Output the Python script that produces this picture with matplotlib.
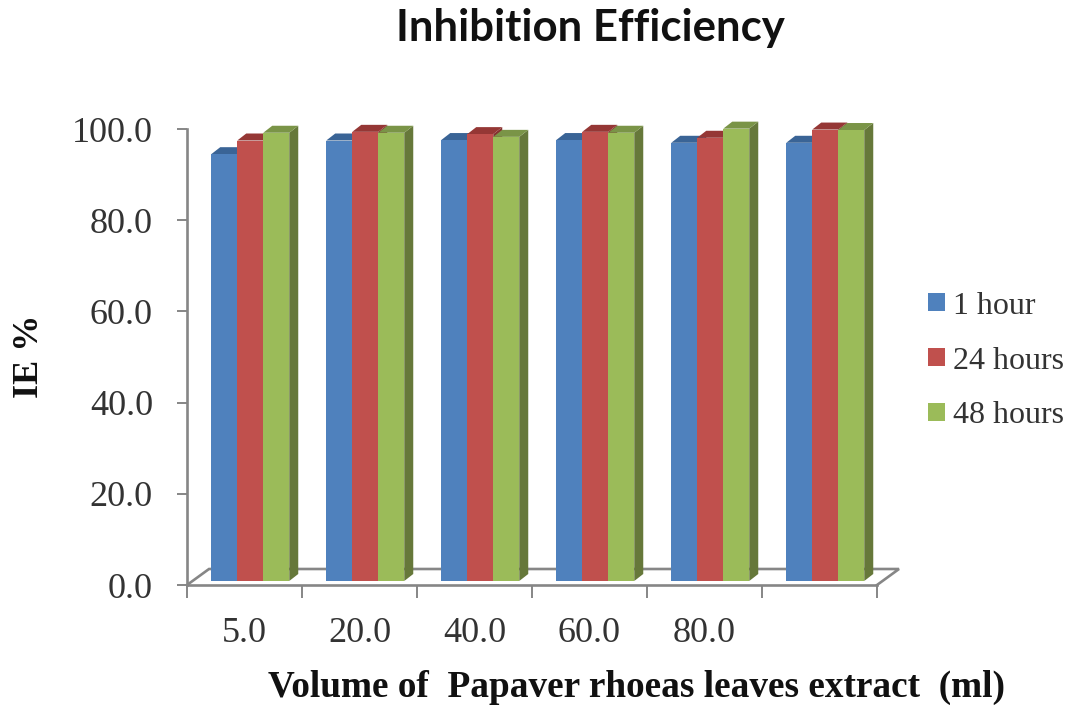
import numpy as np
import matplotlib.pyplot as plt
from matplotlib.patches import Patch

volumes = ['5.0', '20.0', '40.0', '60.0', '80.0', '']
hour_1 = [93.6, 96.6, 96.7, 96.7, 96.1, 96.1]
hours_24 = [96.6, 98.5, 98.0, 98.5, 97.2, 99.0]
hours_48 = [98.3, 98.3, 97.4, 98.3, 99.2, 98.9]
series_names = ['1 hour', '24 hours', '48 hours']
y_ticks = [0, 20, 40, 60, 80, 100]

front = ['#4F81BD', '#C0504D', '#9BBB59']
top = ['#3A6496', '#953735', '#7A9447']
side = ['#345A88', '#843230', '#66783A']
gray = '#868686'

W, H = 1067, 708
# bar sizes and 3d depth, in data units (1 category = 115 px, 1 y unit = 4.56 px)
bar_w = 26 / 115
depth_x = 9 / 115
depth_y = 7 / 4.56
lift = 4 / 4.56
shift = 0.05

fig = plt.figure(figsize=(W / 100, H / 100), dpi=100)
ax = fig.add_axes([187 / W, 1 - 585 / H, 690 / W, 456 / H])
ax.set_xlim(0, 6)
ax.set_ylim(0, 100)

# floor of the 3d box
ax.plot([0, 22 / 115, 6 + 22 / 115, 6], [0, 16 / 4.56, 16 / 4.56, 0],
        color=gray, lw=1.9, clip_on=False, zorder=1, solid_joinstyle='miter')

x = np.arange(len(volumes)) + 0.5 + shift
for j, values in enumerate([hour_1, hours_24, hours_48]):
    left = x + (j - 1.5) * bar_w
    z = 3 + j
    ax.bar(left, values, width=bar_w, bottom=lift, align='edge', color=front[j],
           zorder=z, clip_on=False)
    for xl, v in zip(left, values):
        xr = xl + bar_w
        yt = v + lift
        ax.fill([xr, xr + depth_x, xr + depth_x, xr],
                [lift, lift + depth_y, yt + depth_y, yt],
                color=side[j], lw=0, zorder=z - 0.5, clip_on=False)
        ax.fill([xl, xl + depth_x, xr + depth_x, xr],
                [yt, yt + depth_y, yt + depth_y, yt],
                color=top[j], lw=0, zorder=z - 0.5, clip_on=False)

for name in ['top', 'right']:
    ax.spines[name].set_visible(False)
for name in ['left', 'bottom']:
    ax.spines[name].set_color(gray)
    ax.spines[name].set_linewidth(1.9)
    ax.spines[name].set_zorder(2)

serif = 'Liberation Serif'
ax.set_yticks(y_ticks)
ax.set_yticklabels([f'{t:.1f}' for t in y_ticks], family=serif, fontsize=26, color='#333333')
ax.tick_params(axis='y', length=7, width=1.4, color=gray, pad=17.5)
ax.set_xticks(np.arange(7))
ax.set_xticklabels([])
ax.tick_params(axis='x', which='major', length=9, width=1.4, color=gray)
ax.set_xticks(np.arange(6) + 0.5, minor=True)
ax.set_xticklabels(volumes, minor=True, family=serif, fontsize=26, color='#333333')
ax.tick_params(axis='x', which='minor', length=0, pad=23)

fig.text(590 / W, 1 - 41 / H, 'Inhibition Efficiency', family='Lato', weight='bold',
         fontsize=31.5, ha='center', va='baseline', color='#111111')
fig.text(29 / W, 1 - 356 / H, 'IE %', family=serif, weight='bold', fontsize=26,
         rotation=90, ha='center', va='center', color='#111111')
fig.text(637 / W, 1 - 697 / H, 'Volume of  Papaver rhoeas leaves extract  (ml)', family=serif,
         weight='bold', fontsize=26.8, ha='center', va='baseline', color='#111111')

handles = [Patch(facecolor=c, edgecolor='none') for c in front]
leg = fig.legend(handles, series_names, loc='center left', bbox_to_anchor=(928 / W, 1 - 361 / H),
                 frameon=False, prop={'family': serif, 'size': 23}, handlelength=0.53,
                 handleheight=0.5, handletextpad=0.25, labelspacing=0.81, borderpad=0,
                 borderaxespad=0)
for t in leg.get_texts():
    t.set_color('#333333')

fig.savefig('out.png', dpi=100)
